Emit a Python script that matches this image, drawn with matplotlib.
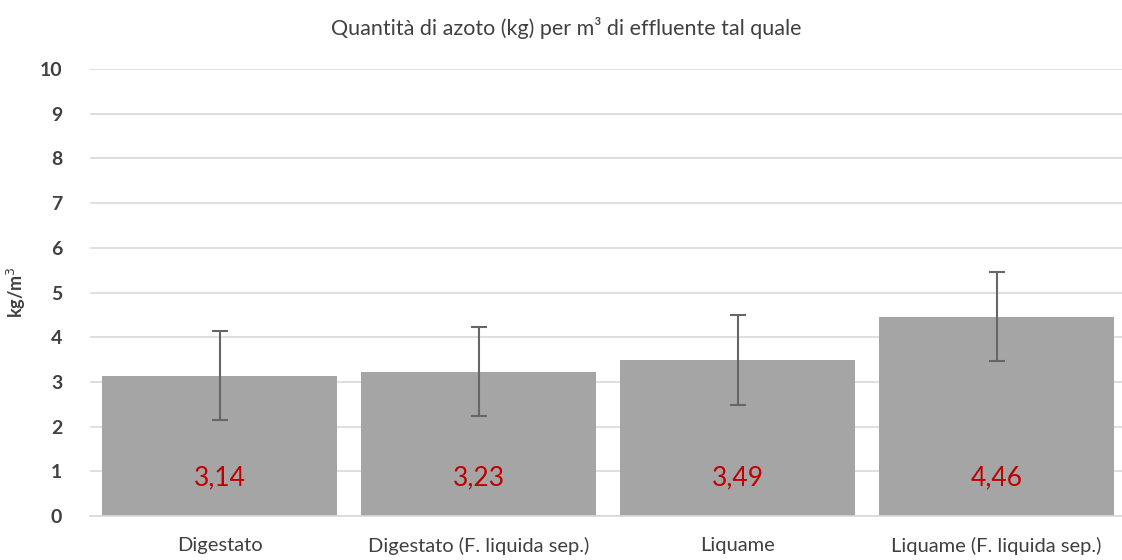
import matplotlib
matplotlib.use('Agg')
import matplotlib.pyplot as plt
import numpy as np

# data
categories = ['Digestato', 'Digestato (F. liquida sep.)', 'Liquame', 'Liquame (F. liquida sep.)']
values = [3.14, 3.23, 3.49, 4.46]
errors = [1.0, 1.0, 1.0, 1.0]
labels = ['3,14', '3,23', '3,49', '4,46']
yticks = list(range(0, 11))

plt.rcParams['font.family'] = ['Lato', 'DejaVu Sans']

fig = plt.figure(figsize=(11.22, 5.6), dpi=100)
ax = fig.add_axes([90 / 1122, 44 / 560, 1036 / 1122, 447 / 560])

x = np.arange(len(categories))
ax.bar(x, values, width=0.91, color='#a5a5a5', zorder=2)
ax.errorbar(x, values, yerr=errors, fmt='none', ecolor='#666666',
            elinewidth=1.5, capsize=6, capthick=1.5, zorder=3)

for xi, lab in zip(x, labels):
    ax.text(xi, 0.85, lab, ha='center', va='center', color='#c00000',
            fontsize=19, zorder=4)

ax.set_xlim(-0.5, len(categories) - 0.5)
ax.set_ylim(0, 10)
ax.set_yticks(yticks)
ax.set_yticklabels([str(t) for t in yticks], fontsize=14, color='#404040', fontweight='bold')
ax.set_xticks(x)
ax.set_xticklabels(categories, fontsize=14.5, color='#404040')
ax.tick_params(axis='both', length=0)
ax.tick_params(axis='y', pad=20)
ax.tick_params(axis='x', pad=15)

ax.grid(axis='y', color='#d9d9d9', linewidth=1.2, zorder=0)
for s in ['top', 'right', 'left']:
    ax.spines[s].set_visible(False)
ax.spines['bottom'].set_color('#d9d9d9')
ax.spines['bottom'].set_linewidth(1.2)

ax.set_ylabel('kg/m$^3$', fontsize=13, color='#404040', fontweight='bold')
ax.yaxis.set_label_coords(-62 / 1036, 0.5)
fig.text(0.505, 0.95, 'Quantità di azoto (kg) per m³ di effluente tal quale',
         ha='center', va='center', fontsize=15.5, color='#404040')

fig.savefig('out.png', dpi=100)
